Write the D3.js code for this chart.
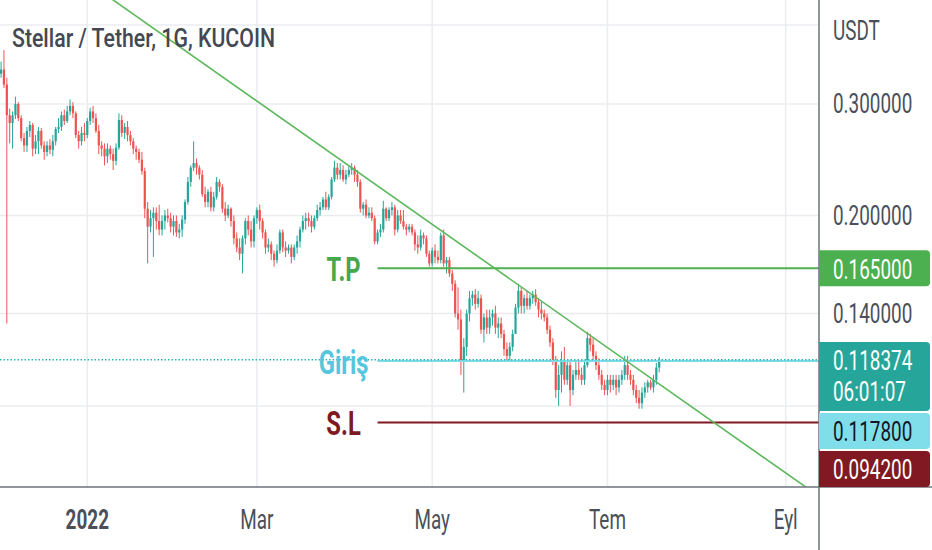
<!DOCTYPE html>
<html>
<head>
<meta charset="utf-8">
<script src="https://cdn.jsdelivr.net/npm/d3@7"></script>
<style>
    html, body { margin: 0; padding: 0; background: #fff; }
    svg { display: block; }
</style>
</head>
<body>
<svg id="chart" width="932" height="550"></svg>
<script>
// Daily XLM/USDT candles from 2021-12-01, open = previous close
const firstDay = "2021-12-01";
const firstOpen = 0.318;

const closes = [
    // Dec 2021
    .335,.340,.322,.288,.280,.288,.300,.285,.265,.258,.272,.278,.255,.262,.272,.258,
    .252,.258,.254,.262,.274,.276,.288,.282,.292,.298,.290,.268,.262,.270,.268,
    // Jan 2022
    .282,.292,.285,.272,.258,.255,.248,.255,.250,.244,.256,.283,.270,.276,.268,.262,
    .255,.252,.245,.235,.205,.192,.198,.202,.196,.190,.196,.200,.198,.192,.196,
    // Feb
    .188,.190,.197,.210,.226,.238,.242,.238,.232,.216,.210,.218,.206,.214,.226,.222,
    .205,.200,.205,.196,.184,.178,.174,.184,.196,.190,.182,.198,
    // Mar
    .204,.196,.188,.178,.180,.174,.170,.176,.188,.178,.176,.178,.172,.178,.182,.190,
    .196,.198,.196,.192,.198,.204,.206,.212,.206,.214,.228,.238,.232,.236,.228,
    // Apr
    .232,.236,.238,.232,.226,.205,.208,.200,.202,.198,.182,.188,.190,.205,.198,.204,
    .206,.190,.200,.196,.192,.190,.192,.188,.180,.178,.186,.184,.174,.168,
    // May
    .176,.172,.170,.186,.168,.170,.162,.156,.140,.137,.118,.124,.140,.148,.150,.145,
    .148,.132,.138,.133,.138,.140,.133,.135,.130,.123,.120,.124,.130,.143,.152,
    // Jun
    .144,.148,.144,.148,.150,.146,.142,.140,.138,.132,.126,.118,.106,.112,.118,.110,
    .116,.106,.112,.114,.112,.110,.116,.128,.125,.120,.116,.112,.108,.106,
    // Jul
    .110,.108,.110,.107,.110,.112,.116,.112,.110,.106,.103,.101,.105,.107,.109,.107,
    .110,.115,.118374
];

const highs = [
    .345,.350,.365,.330,.295,.292,.308,.302,.288,.270,.276,.282,.280,.268,.276,.275,
    .262,.262,.264,.268,.276,.285,.292,.294,.298,.305,.302,.292,.272,.276,.280,
    .285,.296,.298,.290,.278,.262,.260,.260,.258,.255,.260,.290,.288,.280,.282,.272,
    .265,.258,.255,.252,.238,.210,.204,.206,.206,.208,.200,.204,.205,.202,.200,
    .200,.194,.200,.212,.230,.240,.262,.246,.240,.236,.222,.220,.222,.218,.230,.228,
    .224,.210,.208,.206,.200,.188,.184,.186,.198,.200,.196,.200,
    .206,.208,.198,.190,.184,.182,.176,.180,.190,.190,.182,.180,.180,.180,.186,.192,
    .200,.202,.202,.200,.200,.208,.210,.214,.218,.216,.230,.244,.242,.242,.240,
    .236,.240,.242,.240,.236,.228,.210,.212,.206,.206,.200,.190,.194,.211,.206,.206,
    .210,.208,.204,.204,.204,.194,.194,.194,.190,.186,.190,.188,.186,.176,
    .178,.180,.176,.188,.190,.172,.172,.164,.158,.154,.142,.128,.142,.152,.152,.153,
    .152,.150,.140,.142,.142,.142,.144,.138,.138,.132,.126,.126,.132,.145,.156,
    .154,.150,.152,.150,.152,.153,.148,.146,.142,.140,.134,.128,.120,.116,.122,.124,
    .118,.118,.114,.118,.118,.115,.118,.131,.130,.128,.122,.119,.114,.110,
    .112,.112,.112,.112,.112,.114,.120,.120,.114,.112,.108,.106,.107,.109,.110,.110,
    .112,.117,.1195
];

const lows = [
    .310,.330,.318,.135,.260,.255,.284,.282,.262,.252,.252,.266,.248,.250,.250,.255,
    .245,.248,.250,.248,.258,.270,.272,.278,.280,.288,.285,.265,.255,.258,.262,
    .265,.278,.280,.270,.250,.248,.240,.242,.245,.236,.240,.254,.266,.264,.262,.258,
    .250,.245,.242,.232,.198,.168,.188,.172,.190,.186,.186,.190,.195,.188,.186,
    .185,.184,.185,.194,.208,.222,.235,.232,.228,.214,.206,.206,.203,.203,.212,.218,
    .202,.196,.198,.192,.180,.175,.170,.162,.180,.186,.178,.178,
    .194,.190,.184,.174,.175,.170,.166,.168,.174,.175,.172,.174,.168,.170,.174,.178,
    .188,.190,.192,.188,.190,.196,.200,.204,.204,.204,.212,.226,.228,.228,.226,
    .224,.230,.232,.226,.222,.202,.200,.198,.198,.196,.180,.180,.185,.188,.196,.196,
    .200,.186,.188,.194,.190,.186,.188,.186,.176,.174,.176,.180,.172,.166,
    .166,.168,.168,.168,.166,.162,.160,.152,.138,.132,.112,.105,.120,.136,.144,.142,
    .143,.130,.126,.130,.130,.134,.130,.128,.128,.120,.118,.118,.122,.130,.140,
    .140,.140,.142,.142,.145,.144,.138,.137,.136,.130,.124,.116,.103,.100,.105,.108,
    .108,.100,.104,.110,.110,.108,.108,.115,.122,.118,.114,.110,.106,.104,
    .104,.105,.106,.104,.105,.108,.110,.110,.108,.104,.101,.099,.099,.103,.105,.106,
    .105,.108,.113
];

// Axis ticks
const timeTicks = ["2022-01-01", "2022-03-01", "2022-05-01", "2022-07-01", "2022-09-01"];
const timeTickLabels = ["2022", "Mar", "May", "Tem", "Eyl"];
const priceGridTicks = [0.4, 0.3, 0.2, 0.14, 0.1];
const priceTickLabels = [0.3, 0.2, 0.14];

// Drawings: descending trend line and the trade levels
const trendPoints = [
    {date: "2022-01-01", price: 0.468},
    {date: "2022-09-01", price: 0.0784}
];
const levelStart = "2022-04-12";
const levelNames = ["T.P", "Giriş", "S.L"];
const levelPrices = [0.165, 0.1178, 0.0942];
const levelColors = ["#4caf50", "#80deea", "#801922"];
const levelTextColors = ["#45a84a", "#55c6dd", "#7d1a22"];

const lastPrice = 0.118374;
const countdown = "06:01:07";

const width = 932, height = 550;
const paneRight = 819, paneBottom = 487;
const upColor = "#26a69a", downColor = "#ef5350";
const textColor = "#4a4f5a";
const sx = 0.7; //horizontal squeeze of the glyphs

let svg = d3.select("#chart");

let xScale = d3.scaleUtc()
    .domain([new Date("2021-12-01T15:00:00Z"), new Date("2022-09-12T06:00:00Z")])
    .range([0, paneRight - 1]);

let yScale = d3.scaleLog()
    .domain([0.074476, 0.43797])
    .range([paneBottom, 0]);

// Build the candle table from the arrays
let day0 = new Date(firstDay + "T00:00:00Z");
let candles = closes.map((c, i) => {
    let o = i === 0 ? firstOpen : closes[i - 1];
    return {
        date: d3.utcDay.offset(day0, i),
        open: o,
        close: c,
        high: Math.max(highs[i], o, c),
        low: Math.min(lows[i], o, c)
    };
});

svg.append("defs").append("clipPath").attr("id", "pane")
    .append("rect").attr("x", 0).attr("y", 0).attr("width", paneRight).attr("height", paneBottom);

function squeezedText(g, x, y, str)
{
    return g.append("text")
        .attr("transform", "translate(" + x + "," + y + ") scale(" + sx + ",1)")
        .attr("dominant-baseline", "central")
        .text(str);
}

//Grid
let grid = svg.append("g").attr("stroke", "#eaecf0").attr("stroke-width", 1.5);
grid.selectAll(".vgrid")
    .data(timeTicks)
    .enter().append("line")
    .attr("x1", d => xScale(new Date(d + "T00:00:00Z")))
    .attr("x2", d => xScale(new Date(d + "T00:00:00Z")))
    .attr("y1", 0)
    .attr("y2", paneBottom);
grid.selectAll(".hgrid")
    .data(priceGridTicks)
    .enter().append("line")
    .attr("x1", 0)
    .attr("x2", paneRight)
    .attr("y1", d => yScale(d))
    .attr("y2", d => yScale(d));

let pane = svg.append("g").attr("clip-path", "url(#pane)");

//Candles
let candleG = pane.append("g");
candleG.selectAll(".wick")
    .data(candles)
    .enter().append("line")
    .attr("x1", d => xScale(d.date))
    .attr("x2", d => xScale(d.date))
    .attr("y1", d => yScale(d.high))
    .attr("y2", d => yScale(d.low))
    .attr("stroke", d => d.close >= d.open ? upColor : downColor)
    .attr("stroke-width", 1);
candleG.selectAll(".body")
    .data(candles)
    .enter().append("rect")
    .attr("x", d => xScale(d.date) - 1.1)
    .attr("width", 2.2)
    .attr("y", d => yScale(Math.max(d.open, d.close)))
    .attr("height", d => Math.max(1, Math.abs(yScale(d.open) - yScale(d.close))))
    .attr("fill", d => d.close >= d.open ? upColor : downColor);

//Trade levels
let levelX = xScale(new Date(levelStart + "T00:00:00Z"));
levelPrices.forEach((p, i) => {
    pane.append("line")
        .attr("x1", levelX)
        .attr("x2", paneRight)
        .attr("y1", yScale(p))
        .attr("y2", yScale(p))
        .attr("stroke", levelColors[i])
        .attr("stroke-width", 2);

    squeezedText(svg, levelX - 34, yScale(p) + 1, levelNames[i])
        .attr("text-anchor", "middle")
        .attr("font-family", "Roboto, sans-serif")
        .attr("font-weight", 700)
        .attr("font-size", 34)
        .attr("fill", levelTextColors[i]);
});

//Last price dotted line
pane.append("line")
    .attr("x1", 0)
    .attr("x2", paneRight)
    .attr("y1", yScale(lastPrice))
    .attr("y2", yScale(lastPrice))
    .attr("stroke", "#2fb3b0")
    .attr("stroke-width", 1.5)
    .attr("stroke-dasharray", "1.5,2");

//Trend line, extended across the pane
let t0 = trendPoints[0], t1 = trendPoints[1];
let tx0 = xScale(new Date(t0.date + "T00:00:00Z")), tx1 = xScale(new Date(t1.date + "T00:00:00Z"));
let ty0 = yScale(t0.price), ty1 = yScale(t1.price);
let slope = (ty1 - ty0) / (tx1 - tx0);
pane.append("path")
    .attr("d", d3.line()([[tx0 - 200, ty0 - 200 * slope], [tx1 + 200, ty1 + 200 * slope]]))
    .attr("fill", "none")
    .attr("stroke", "#5cb85c")
    .attr("stroke-width", 1.6);

//Title
svg.append("text")
    .attr("x", 12)
    .attr("y", 47)
    .attr("font-family", "Roboto, sans-serif")
    .attr("font-weight", 500)
    .attr("font-size", 25)
    .attr("fill", "#434852")
    .attr("textLength", 263)
    .attr("lengthAdjust", "spacingAndGlyphs")
    .text("Stellar / Tether, 1G, KUCOIN");

//Axis lines
svg.append("line")
    .attr("x1", paneRight).attr("x2", paneRight)
    .attr("y1", 0).attr("y2", height)
    .attr("stroke", "#6f727c").attr("stroke-width", 1.5);
svg.append("line")
    .attr("x1", 0).attr("x2", width)
    .attr("y1", paneBottom).attr("y2", paneBottom)
    .attr("stroke", "#6f727c").attr("stroke-width", 1.5);

//Time axis labels
timeTicks.forEach((d, i) => {
    squeezedText(svg, xScale(new Date(d + "T00:00:00Z")), 520, timeTickLabels[i])
        .attr("text-anchor", "middle")
        .attr("font-family", "Roboto, sans-serif")
        .attr("font-weight", i === 0 ? 700 : 400)
        .attr("font-size", 27)
        .attr("fill", textColor);
});

//Price axis labels
let priceFormat = d3.format(".6f");
squeezedText(svg, 833, 31, "USDT")
    .attr("font-family", "Roboto, sans-serif")
    .attr("font-size", 27)
    .attr("fill", textColor);
priceTickLabels.forEach(p => {
    squeezedText(svg, 833, yScale(p), priceFormat(p))
        .attr("font-family", "Roboto, sans-serif")
        .attr("font-size", 27)
        .attr("fill", textColor);
});

//Price boxes on the axis, overlapping ones stacked against the pane bottom
let boxes = [
    {price: levelPrices[0], lines: [priceFormat(levelPrices[0])], fill: levelColors[0], color: "#fff"},
    {price: lastPrice, lines: [priceFormat(lastPrice), countdown], fill: upColor, color: "#fff"},
    {price: levelPrices[1], lines: [priceFormat(levelPrices[1])], fill: levelColors[1], color: "#131722"},
    {price: levelPrices[2], lines: [priceFormat(levelPrices[2])], fill: levelColors[2], color: "#fff"}
];
boxes.forEach(b => {
    b.h = 36 + 33 * (b.lines.length - 1);
    b.top = yScale(b.price) - (b.lines.length === 1 ? 18 : 35);
});
boxes.sort((a, b) => a.top - b.top);
let clusters = [];
boxes.forEach((b, i) => {
    let prev = boxes[i - 1];
    if (prev && b.top < prev.top + prev.h + 2) {
        b.top = prev.top + prev.h + 2;
        clusters[clusters.length - 1].push(b);
    } else {
        clusters.push([b]);
    }
});
clusters.filter(c => c.length > 1).forEach(c => {
    let last = c[c.length - 1];
    let shift = paneBottom - (last.top + last.h);
    c.forEach(b => b.top += shift);
});

let boxW = 111, r = 4;
boxes.forEach(b => {
    let x0 = paneRight, y0 = b.top, x1 = paneRight + boxW, y1 = b.top + b.h;
    svg.append("path")
        .attr("d", "M" + x0 + "," + y0 + "H" + (x1 - r) + "Q" + x1 + "," + y0 + " " + x1 + "," + (y0 + r) +
            "V" + (y1 - r) + "Q" + x1 + "," + y1 + " " + (x1 - r) + "," + y1 + "H" + x0 + "Z")
        .attr("fill", b.fill);
    b.lines.forEach((t, k) => {
        squeezedText(svg, 833, b.top + 19 + k * 31, t)
            .attr("font-family", "Roboto, sans-serif")
            .attr("font-size", 27)
            .attr("fill", b.color);
    });
});
</script>
</body>
</html>
